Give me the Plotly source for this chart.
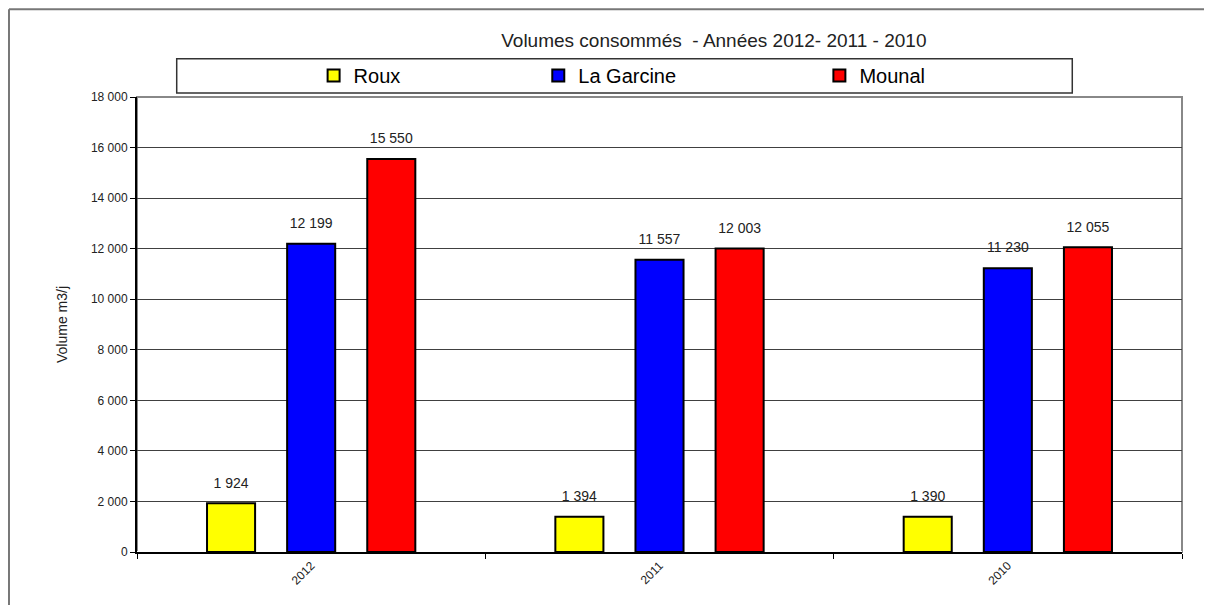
import plotly.graph_objects as go

years = ["2012", "2011", "2010"]
roux = [1924, 1394, 1390]
garcine = [12199, 11557, 11230]
mounal = [15550, 12003, 12055]

series = [
    ("Roux", roux, "#ffff00", "legend", 0.169),
    ("La Garcine", garcine, "#0000ff", "legend2", 0.384),
    ("Mounal", mounal, "#ff0000", "legend3", 0.653),
]

font = "Liberation Sans, Arial, sans-serif"

fig = go.Figure()
for name, vals, color, leg, _ in series:
    fig.add_trace(go.Bar(
        name=name, x=years, y=vals, legend=leg, offsetgroup=name,
        marker=dict(color=color, line=dict(color="black", width=2)),
    ))
# value labels, grouped like the bars
for name, vals, color, leg, _ in series:
    fig.add_trace(go.Scatter(
        x=years, y=vals, mode="markers+text", offsetgroup=name, showlegend=False,
        text=[f"{v:,}".replace(",", " ") for v in vals], textposition="top center",
        marker=dict(size=18, color="rgba(0,0,0,0)"),
        textfont=dict(size=14, color="#222"), cliponaxis=False, hoverinfo="skip",
    ))

leg_common = dict(orientation="h", y=1.047, yanchor="middle", xanchor="left",
                  bgcolor="rgba(0,0,0,0)", borderwidth=0,
                  font=dict(size=20, color="black", family=font),
                  itemwidth=30)
layout_legs = {}
for name, vals, color, leg, xpos in series:
    layout_legs[leg] = dict(leg_common, x=xpos)

fig.update_layout(
    width=1204, height=597,
    margin=dict(l=129, r=30, t=89, b=53),
    paper_bgcolor="white", plot_bgcolor="white",
    font=dict(family=font, color="#222"),
    separators=", ",
    title=dict(text="Volumes consommés  - Années 2012- 2011 - 2010",
               x=0.552, xref="paper", xanchor="center", y=0.946, yanchor="middle",
               font=dict(size=19, color="#222")),
    barmode="group", bargap=0.31, bargroupgap=0.4,
    scattermode="group", scattergap=0.31,
    showlegend=True,
    **layout_legs,
)

fig.update_xaxes(showline=True, linecolor="black", linewidth=2,
                 ticks="outside", tickson="boundaries", ticklen=5, tickcolor="black",
                 tickangle=-45, tickfont=dict(size=12, color="#222"), showgrid=False)
fig.update_yaxes(range=[0, 18000], dtick=2000, tickformat=",",
                 showline=True, linecolor="black", linewidth=2,
                 ticks="outside", ticklen=5, tickcolor="black",
                 showgrid=True, gridcolor="#404040", gridwidth=1,
                 tickfont=dict(size=12, color="#222"),
                 title=dict(text="Volume m3/j", font=dict(size=14, color="#222"), standoff=20))

# plot area frame (grey top/right)
fig.add_shape(type="rect", xref="paper", yref="paper", x0=0, x1=1, y0=0, y1=1,
              line=dict(color="#888", width=2), layer="below")
# legend box
fig.add_shape(type="rect", xref="paper", yref="paper", x0=0.038, x1=0.895, y0=1.009, y1=1.084,
              line=dict(color="#333", width=1.5))
# outer chart frame (top and left edges visible)
fig.add_shape(type="line", xref="paper", yref="paper", x0=-0.1225, x1=1.1, y0=1.193, y1=1.193,
              line=dict(color="#777", width=2))
fig.add_shape(type="line", xref="paper", yref="paper", x0=-0.1225, x1=-0.1225, y0=1.193, y1=-0.2,
              line=dict(color="#777", width=2))

fig.write_html("out.html")
